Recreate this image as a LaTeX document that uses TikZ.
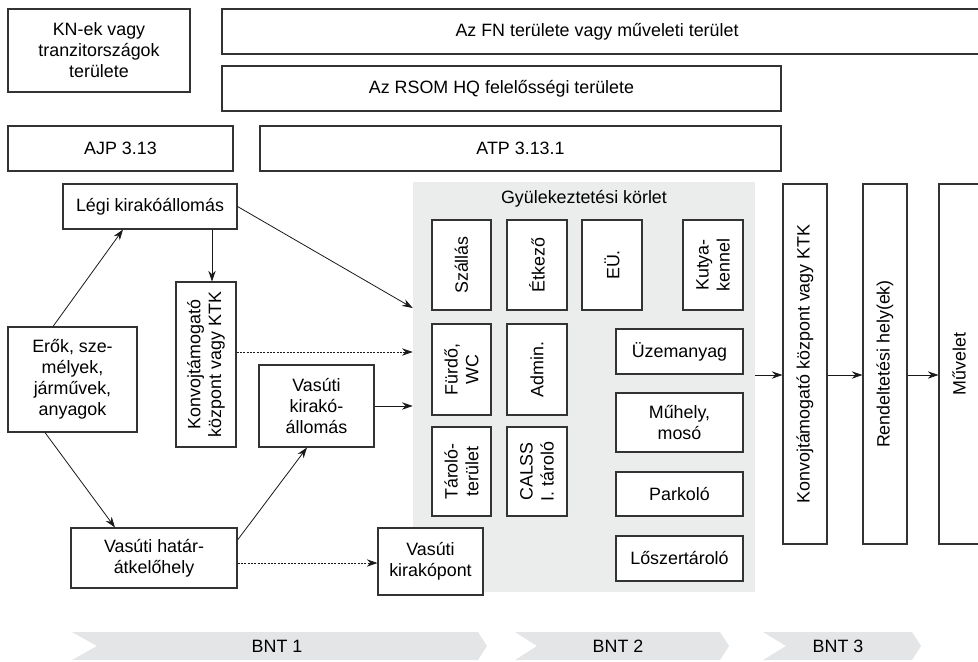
\documentclass[tikz,border=0pt]{standalone}
\usepackage{fontspec}
\setmainfont{Liberation Sans}
\usetikzlibrary{arrows.meta,calc}
\definecolor{lineC}{HTML}{333333}
\definecolor{areaC}{HTML}{EBECEC}
\definecolor{chevC}{HTML}{E4E5E7}
\newcommand\myfs{\fontsize{13.4}{15.7}\selectfont}
\tikzset{
 box/.style={draw=lineC, line width=0.8pt, fill=white, inner sep=0pt, align=center, font=\myfs},
 sz/.style 2 args={minimum width=#1*0.75pt, minimum height=#2*0.75pt},
 vtext/.style={rotate=90, align=center, font=\myfs, inner sep=0pt},
 arr/.style={draw=black!90, line width=0.6pt, -{Stealth[length=8pt,width=5.5pt]}},
 darr/.style={arr, dash pattern=on 1.5pt off 1pt},
 chev/.style={fill=chevC, draw=none},
 lbl/.style={font=\myfs, inner sep=0pt, align=center},
}
\begin{document}
\begin{tikzpicture}[x=0.75pt,y=-0.75pt]
\useasboundingbox (0,0) rectangle (978,661);
\clip (0,0) rectangle (978,661);

% top bands
\node[box, sz={182}{83}] (kn) at (99,50.5) {KN-ek vagy\\tranzitországok\\területe};
\draw[draw=lineC, line width=0.8pt] (222,9) rectangle (990,54);
\node[lbl] (fn) at (597,31.5) {Az FN területe vagy műveleti terület};
\node[box, sz={559}{45}] (rsom) at (501.5,88.5) {Az RSOM HQ felelősségi területe};
\node[box, sz={225}{45}] (ajp) at (120.5,148.5) {AJP 3.13};
\node[box, sz={521}{45}] (atp) at (520.5,148.5) {ATP 3.13.1};

% assembly area
\node[fill=areaC, inner sep=0pt, sz={342}{410}] (area) at (584,387) {};
\node[lbl] (areaT) at (584,199) {Gyülekeztetési körlet};

\node[box, sz={59}{90}] (szal) at (461.5,265) {};
\node[vtext] (szalT) at (szal) {Szállás};
\node[box, sz={60}{90}] (etk) at (537,265) {};
\node[vtext] (etkT) at (etk) {Étkező};
\node[box, sz={60}{90}] (eu) at (612,265) {};
\node[vtext] (euT) at (eu) {EÜ.};
\node[box, sz={60}{90}] (kut) at (713,265) {};
\node[vtext] (kutT) at (kut) {Kutya-\\kennel};

\node[box, sz={59}{91}] (fur) at (461.5,369.5) {};
\node[vtext] (furT) at (fur) {Fürdő,\\WC};
\node[box, sz={60}{91}] (adm) at (537,369.5) {};
\node[vtext] (admT) at (adm) {Admin.};
\node[box, sz={59}{89}] (tar) at (461.5,471.5) {};
\node[vtext] (tarT) at (tar) {Tároló-\\terület};
\node[box, sz={60}{89}] (cal) at (537,471.5) {};
\node[vtext] (calT) at (cal) {CALSS\\I. tároló};

\node[box, sz={127}{45}] (uze) at (679.5,351.5) {Üzemanyag};
\node[box, sz={127}{59}] (muh) at (679.5,422.5) {Műhely,\\mosó};
\node[box, sz={127}{44}] (par) at (679.5,494) {Parkoló};
\node[box, sz={127}{45}] (los) at (679.5,558.5) {Lőszertároló};

\node[box, sz={105}{67}] (vkp) at (430.5,561.5) {Vasúti\\kirakópont};

% left part
\node[box, sz={174}{45}] (legi) at (150,206.5) {Légi kirakóállomás};
\node[box, sz={60}{165}] (konv) at (206,364.5) {};
\node[vtext] (konvT) at (konv) {Konvojtámogató\\központ vagy KTK};
\node[box, sz={129}{105}] (erok) at (72.5,379.5) {Erők, sze-\\mélyek,\\járművek,\\anyagok};
\node[box, sz={115}{82}] (vka) at (316.5,406) {Vasúti\\kirakó-\\állomás};
\node[box, sz={166}{60}] (vha) at (154,558) {Vasúti határ-\\átkelőhely};

% right part
\node[box, sz={44}{360}] (ktk) at (805,364) {};
\node[vtext] (ktkT) at (ktk) {Konvojtámogató központ vagy KTK};
\node[box, sz={44}{360}] (ren) at (885,364) {};
\node[vtext] (renT) at (ren) {Rendeltetési hely(ek)};
\node[box, sz={44}{360}] (muv) at (961,364) {};
\node[vtext] (muvT) at (959,364) {Művelet};

% connectors
\draw[arr] (53,0 |- erok.north) -- (123,0 |- legi.south);
\draw[arr] (legi.east) -- (area.west |- 0,308);
\draw[arr] (212,0 |- legi.south) -- (212,0 |- konv.north);
\draw[darr] (konv.east |- 0,352) -- (area.west |- 0,352);
\draw[arr] (vka.east) -- (area.west |- vka.east);
\draw[arr] (45,0 |- erok.south) -- (115,0 |- vha.north);
\draw[arr] (vha.east |- 0,540) -- (307,0 |- vka.south);
\draw[darr] (vha.east |- 0,563) -- (vkp.west |- 0,563);
\draw[arr] (area.east |- 0,375) -- (ktk.west |- 0,375);
\draw[arr] (ktk.east |- 0,375) -- (ren.west |- 0,375);
\draw[arr] (ren.east |- 0,375) -- (muv.west |- 0,375);

% phases
\fill[chev] (72,632) -- (478,632) -- (487,646) -- (478,660) -- (72,660) -- (97,646) -- cycle;
\node[lbl] (bnt1) at (277,646) {BNT 1};
\fill[chev] (515,632) -- (720,632) -- (729,646) -- (720,660) -- (515,660) -- (537,646) -- cycle;
\node[lbl] (bnt2) at (618,646) {BNT 2};
\fill[chev] (763,632) -- (912,632) -- (921,646) -- (912,660) -- (763,660) -- (786,646) -- cycle;
\node[lbl] (bnt3) at (838,646) {BNT 3};
\end{tikzpicture}
\end{document}
